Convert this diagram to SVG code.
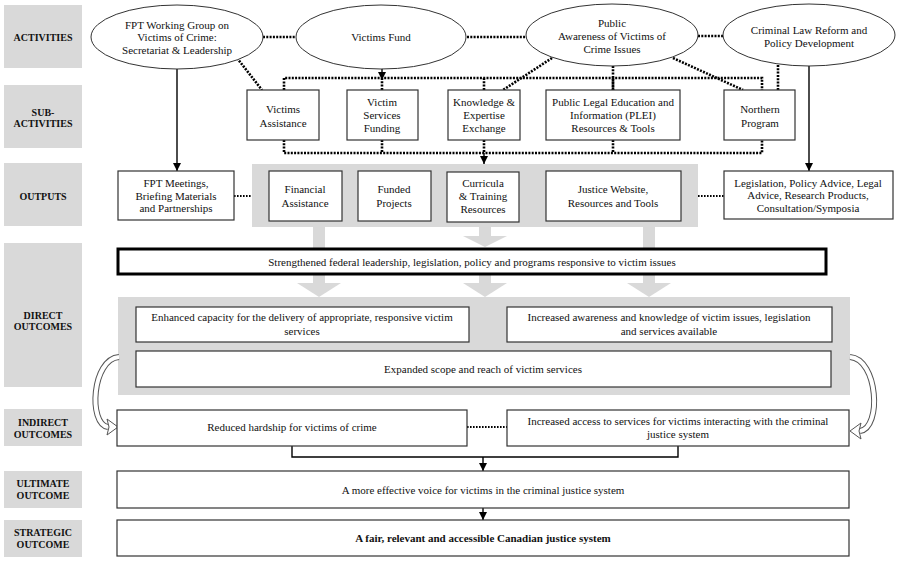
<svg xmlns="http://www.w3.org/2000/svg" width="900" height="564" viewBox="0 0 900 564">
<style>
text{font-family:"Liberation Serif","Times New Roman",serif;font-size:11px;fill:#111;text-anchor:middle}
.lab rect{fill:#d9d9d9}
.lab text{font-weight:bold;font-size:10px}
.box{fill:#fff;stroke:#333;stroke-width:1.2}
.ell{fill:#fff;stroke:#333;stroke-width:1}
.panel{fill:#d9d9d9}
.dot{fill:none;stroke:#000;stroke-width:2.6;stroke-dasharray:2 1.3}
.dot2{fill:none;stroke:#000;stroke-width:1.8;stroke-dasharray:1.6 1.4}
.sol{fill:none;stroke:#000;stroke-width:1.4}
.garr{fill:#d9d9d9}
</style>
<defs>
<marker id="ah" markerUnits="userSpaceOnUse" markerWidth="8" markerHeight="8" refX="8" refY="4" orient="auto">
<path d="M0,0 L8,4 L0,8 z" fill="#000"/>
</marker>
</defs>

<g id="labels" class="lab">
<rect x="4" y="5" width="78" height="63"/><text x="43" y="41">ACTIVITIES</text>
<rect x="4" y="85" width="78" height="63"/><text x="43" y="116">SUB-</text><text x="43" y="127">ACTIVITIES</text>
<rect x="4" y="163" width="78" height="63"/><text x="43" y="200">OUTPUTS</text>
<rect x="4" y="243" width="78" height="144"/><text x="43" y="319">DIRECT</text><text x="43" y="330">OUTCOMES</text>
<rect x="4" y="409" width="78" height="37"/><text x="43" y="426">INDIRECT</text><text x="43" y="438">OUTCOMES</text>
<rect x="4" y="471" width="78" height="37"/><text x="43" y="487">ULTIMATE</text><text x="43" y="499">OUTCOME</text>
<rect x="4" y="520" width="78" height="37"/><text x="43" y="536">STRATEGIC</text><text x="43" y="548">OUTCOME</text>
</g>

<g id="panels">
<rect class="panel" x="252" y="164" width="446" height="63"/>
<rect class="panel" x="118" y="297" width="732" height="98"/>
</g>

<g id="connectors">
<!-- ellipse links -->
<path class="dot" d="M263,37 H296 M467,37 H527 M698,36 H723"/>
<path class="dot" d="M237,58 L262,90 M552,58 L503,90 M673,58 L743,90 M613,66 V90 M778,65 V90"/>
<!-- top bus -->
<path class="dot" d="M284,90 V78 H762 V90 M382,78 V90 M484,78 V90 M613,78 V90"/>
<!-- bottom bus -->
<path class="dot" d="M284,140 V153 H762 V140 M382,140 V153 M484,140 V153 M613,140 V153"/>
<path class="sol" d="M382,68 V80" marker-end="url(#ah)"/>
<path class="sol" d="M484,153 V164" marker-end="url(#ah)"/>
<path class="sol" d="M177,68 V171" marker-end="url(#ah)"/>
<path class="sol" d="M809,65 V171" marker-end="url(#ah)"/>
<!-- outputs dotted -->
<path class="dot2" d="M234,196 H252 M698,196 H724"/>
<!-- gray flow arrows -->
<rect class="garr" x="313" y="227" width="12" height="21"/>
<rect class="garr" x="479" y="227" width="12" height="10"/>
<polygon class="garr" points="463,236 507,236 485,247"/>
<rect class="garr" x="643" y="227" width="12" height="21"/>
<rect class="garr" x="313" y="275" width="12" height="9"/>
<polygon class="garr" points="297,283 341,283 319,297"/>
<rect class="garr" x="479" y="275" width="12" height="9"/>
<polygon class="garr" points="463,283 507,283 485,297"/>
<rect class="garr" x="643" y="275" width="12" height="9"/>
<polygon class="garr" points="627,283 671,283 649,297"/>
<!-- hollow curved arrows -->
<path d="M119,357 C92,359 88,424 108,427" fill="none" stroke="#555" stroke-width="6"/>
<path d="M119,357 C92,359 88,424 108,427" fill="none" stroke="#fff" stroke-width="4"/>
<polygon points="107,419 118,427 107,435 109,427" fill="#fff" stroke="#555" stroke-width="1"/>
<path d="M850,357 C878,359 882,428 860,431" fill="none" stroke="#555" stroke-width="6"/>
<path d="M850,357 C878,359 882,428 860,431" fill="none" stroke="#fff" stroke-width="4"/>
<polygon points="861,423 850,431 861,439 859,431" fill="#fff" stroke="#555" stroke-width="1"/>
<!-- indirect -->
<path class="dot2" d="M467,427 H507"/>
<path class="sol" d="M292,446 V457 H678 V446"/>
<path class="sol" d="M483,457 V471" marker-end="url(#ah)"/>
<path class="sol" d="M483,508 V520" marker-end="url(#ah)"/>
</g>

<g id="act-fpt"><ellipse class="ell" cx="177" cy="37" rx="86" ry="32"/>
<text x="177" y="29">FPT Working Group on</text><text x="177" y="41">Victims of Crime:</text><text x="177" y="54">Secretariat &amp; Leadership</text></g>
<g id="act-fund"><ellipse class="ell" cx="381" cy="37" rx="85" ry="32"/><text x="381" y="41">Victims Fund</text></g>
<g id="act-public"><ellipse class="ell" cx="612" cy="35" rx="86" ry="31"/>
<text x="612" y="27">Public</text><text x="612" y="40">Awareness of Victims of</text><text x="612" y="53">Crime Issues</text></g>
<g id="act-law"><ellipse class="ell" cx="809" cy="35" rx="86" ry="31"/>
<text x="809" y="34">Criminal Law Reform and</text><text x="809" y="47">Policy Development</text></g>

<g id="sub-va"><rect class="box" x="247" y="90" width="72" height="50"/><text x="283" y="113">Victims</text><text x="283" y="127">Assistance</text></g>
<g id="sub-vsf"><rect class="box" x="347" y="90" width="71" height="50"/><text x="382" y="106">Victim</text><text x="382" y="119">Services</text><text x="382" y="132">Funding</text></g>
<g id="sub-kee"><rect class="box" x="448" y="90" width="72" height="50"/><text x="484" y="106">Knowledge &amp;</text><text x="484" y="119">Expertise</text><text x="484" y="132">Exchange</text></g>
<g id="sub-plei"><rect class="box" x="546" y="90" width="134" height="50"/><text x="613" y="106">Public Legal Education and</text><text x="613" y="119">Information (PLEI)</text><text x="613" y="132">Resources &amp; Tools</text></g>
<g id="sub-north"><rect class="box" x="724" y="90" width="71" height="50"/><text x="760" y="113">Northern</text><text x="760" y="127">Program</text></g>

<g id="out-fpt"><rect class="box" x="118" y="171" width="116" height="49"/><text x="176" y="187">FPT Meetings,</text><text x="176" y="200">Briefing Materials</text><text x="176" y="212">and Partnerships</text></g>
<g id="out-fin"><rect class="box" x="269" y="171" width="73" height="50"/><text x="305" y="193">Financial</text><text x="305" y="207">Assistance</text></g>
<g id="out-proj"><rect class="box" x="358" y="171" width="73" height="50"/><text x="394" y="193">Funded</text><text x="394" y="207">Projects</text></g>
<g id="out-curr"><rect class="box" x="447" y="172" width="72" height="50"/><text x="483" y="187">Curricula</text><text x="483" y="200">&amp; Training</text><text x="483" y="213">Resources</text></g>
<g id="out-web"><rect class="box" x="546" y="171" width="135" height="50"/><text x="613" y="193">Justice Website,</text><text x="613" y="207">Resources and Tools</text></g>
<g id="out-leg"><rect class="box" x="724" y="171" width="169" height="48"/><text x="808" y="187">Legislation, Policy Advice, Legal</text><text x="808" y="199">Advice, Research Products,</text><text x="808" y="212">Consultation/Symposia</text></g>

<g id="do-strength"><rect x="118" y="249" width="708" height="25" fill="#fff" stroke="#000" stroke-width="3"/><text x="472" y="266">Strengthened federal leadership, legislation, policy and programs responsive to victim issues</text></g>
<g id="do-capacity"><rect class="box" x="136" y="307" width="333" height="35"/><text x="302" y="321">Enhanced capacity for the delivery of appropriate, responsive victim</text><text x="302" y="335">services</text></g>
<g id="do-awareness"><rect class="box" x="507" y="307" width="325" height="35"/><text x="669" y="321">Increased awareness and knowledge of victim issues, legislation</text><text x="669" y="335">and services available</text></g>
<g id="do-scope"><rect class="box" x="136" y="351" width="695" height="36"/><text x="483" y="373">Expanded scope and reach of victim services</text></g>

<g id="io-hardship"><rect class="box" x="117" y="410" width="350" height="36"/><text x="292" y="431">Reduced hardship for victims of crime</text></g>
<g id="io-access"><rect class="box" x="507" y="410" width="342" height="36"/><text x="678" y="425">Increased access to services for victims interacting with the criminal</text><text x="678" y="438">justice system</text></g>

<g id="ultimate"><rect class="box" x="117" y="471" width="732" height="37"/><text x="483" y="494">A more effective voice for victims in the criminal justice system</text></g>
<g id="strategic"><rect class="box" x="117" y="520" width="732" height="36"/><text x="483" y="542" font-weight="bold">A fair, relevant and accessible Canadian justice system</text></g>
</svg>
